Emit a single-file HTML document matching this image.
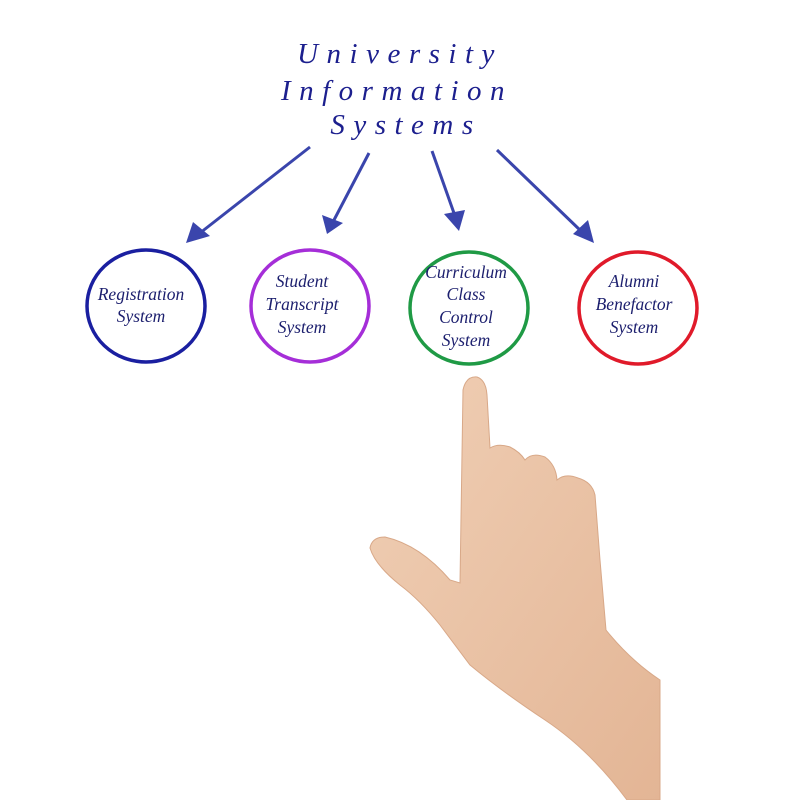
<!DOCTYPE html>
<html><head><meta charset="utf-8"><style>
html,body{margin:0;padding:0;background:#fff;}
svg{display:block}
</style></head><body>
<svg width="792" height="800" viewBox="0 0 792 800" xmlns="http://www.w3.org/2000/svg">
<defs>
<linearGradient id="skin" x1="0" y1="0" x2="1" y2="1">
<stop offset="0" stop-color="#f0cfb5"/><stop offset="1" stop-color="#e3b595"/>
</linearGradient>
</defs>
<g font-family="Liberation Serif, serif" font-style="italic" font-size="29" fill="#1c1f8e" text-anchor="middle" letter-spacing="8.5">
<text x="400" y="63">University</text>
<text x="397" y="100">Information</text>
<text x="406" y="134">Systems</text>
</g>
<g stroke="#3a45ac" stroke-width="3" fill="#3a45ac">
<line x1="310" y1="147" x2="200" y2="233"/>
<polygon points="186,243 193,222 210,236" stroke="none"/>
<line x1="369" y1="153" x2="334" y2="220"/>
<polygon points="327,234 322,215 343,223" stroke="none"/>
<line x1="432" y1="151" x2="455" y2="216"/>
<polygon points="459,231 444,214 465,210" stroke="none"/>
<line x1="497" y1="150" x2="582" y2="232"/>
<polygon points="594,243 573,234 588,220" stroke="none"/>
</g>
<g fill="none" stroke-width="3.5">
<ellipse cx="146" cy="306" rx="59" ry="56" stroke="#1a1fa0"/>
<ellipse cx="310" cy="306" rx="59" ry="56" stroke="#a52ed8"/>
<ellipse cx="469" cy="308" rx="59" ry="56" stroke="#1f9a45"/>
<ellipse cx="638" cy="308" rx="59" ry="56" stroke="#e01a2a"/>
</g>
<g font-family="Liberation Serif, serif" font-style="italic" font-size="17.5" fill="#1c1f6e" text-anchor="middle">
<text x="141" y="300">Registration</text>
<text x="141" y="322">System</text>
<text x="302" y="287">Student</text>
<text x="302" y="310">Transcript</text>
<text x="302" y="333">System</text>
<text x="466" y="278">Curriculum</text>
<text x="466" y="300">Class</text>
<text x="466" y="323">Control</text>
<text x="466" y="346">System</text>
<text x="634" y="287">Alumni</text>
<text x="634" y="310">Benefactor</text>
<text x="634" y="333">System</text>
</g>
<path d="M463,390 Q466,376 477,377 Q486,380 487,395 L490,448 Q498,443 510,447 Q520,452 525,460 Q532,452 545,457 Q556,465 557,480 Q565,473 578,478 Q592,482 595,495 L600,560 L606,630 Q630,660 660,680 L660,800 L627,800 Q590,750 545,720 Q500,690 470,665 L440,625 Q420,600 400,585 Q375,565 370,548 Q372,537 385,537 Q420,545 450,580 L460,583 Z" fill="url(#skin)" stroke="#d8a888" stroke-width="1"/>
</svg>
</body></html>
